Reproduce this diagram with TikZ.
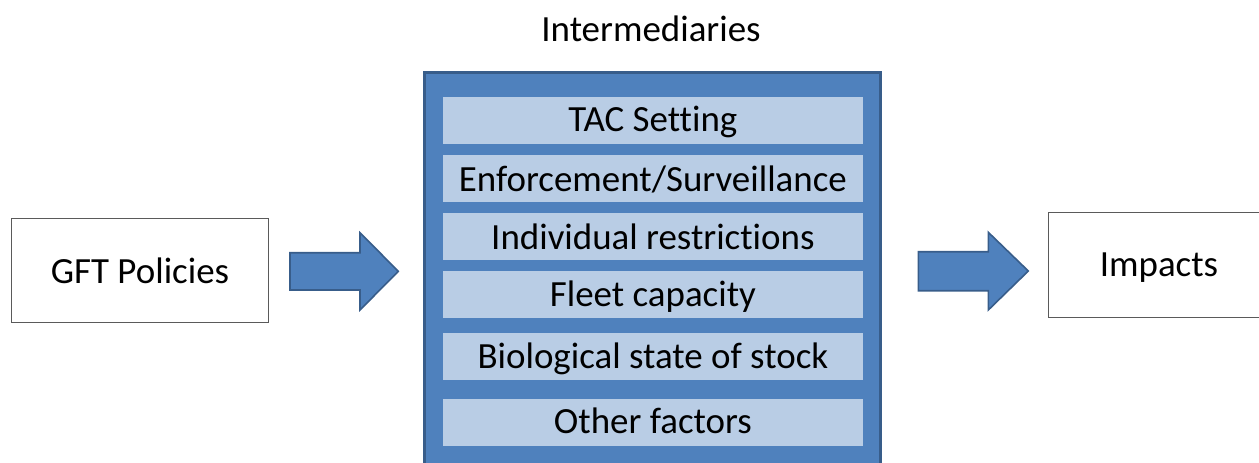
\documentclass[tikz,border=0pt]{standalone}
\usepackage{fontspec}
\setmainfont{Carlito}[Ligatures=NoCommon]
\definecolor{officeblue}{RGB}{79,129,189}
\definecolor{officeedge}{RGB}{56,93,138}
\definecolor{paleblue}{RGB}{185,205,229}
\begin{document}
\begin{tikzpicture}[x=0.75pt,y=0.75pt,yscale=-1,xscale=1,
  font=\fontsize{27.7}{32}\selectfont,
  plainbox/.style={draw={rgb, 255:red, 90; green, 90; blue, 90}, fill=white, line width=1pt},
  blockarrow/.style={draw=officeedge, fill=officeblue, line width=1.2pt, line join=miter},
  factorbox/.style={draw=none, fill=paleblue},
  label/.style={anchor=base, inner sep=0.75pt}]
\useasboundingbox (0,0) rectangle (1259,462);

%Shape: Rectangle [GFT]
\draw [plainbox] (11.7,218.3) rectangle (268.3,322.7);
%Shape: Rectangle [Impacts]
\draw [plainbox] (1048.3,212.7) rectangle (1272,317.3);
%Shape: Rectangle [Intermediaries frame]
\draw [draw=officeedge, fill=officeblue, line width=2.25pt] (424.5,72.7) rectangle (880.5,490);

%Shape: Rectangles [factors]
\fill [factorbox] (442.7,96.7) rectangle (863,143.7);
\fill [factorbox] (442.7,155) rectangle (863,201.7);
\fill [factorbox] (442.7,213.3) rectangle (863,259.7);
\fill [factorbox] (442.7,271) rectangle (863,317.5);
\fill [factorbox] (442.7,333) rectangle (863,380);
\fill [factorbox] (442.7,399.2) rectangle (863,445.7);

%Shape: Right Arrow [in]
\draw [blockarrow] (290,252.7) -- (360,252.7) -- (360,232.7) -- (398.3,271.3) -- (360,310) -- (360,290) -- (290,290) -- cycle ;
%Shape: Right Arrow [out]
\draw [blockarrow] (918.3,251.7) -- (988.3,251.7) -- (988.3,232.3) -- (1028.3,271) -- (988.3,310) -- (988.3,290.7) -- (918.3,290.7) -- cycle ;

% Text Node
\node (title) [label] at (651,41.7) {Intermediaries};
% Text Node
\node (gft) [label] at (140,283.3) {GFT Policies};
% Text Node
\node (impacts) [label] at (1159,276.7) {Impacts};
% Text Node
\node (tac) [label] at (652.9,131.7) {TAC Setting};
% Text Node
\node (enforce) [label] at (652.9,191) {Enforcement/Surveillance};
% Text Node
\node (restrict) [label] at (652.9,249) {Individual restrictions};
% Text Node
\node (fleet) [label] at (652.9,306.7) {Fleet capacity};
% Text Node
\node (stock) [label] at (652.9,368.3) {Biological state of stock};
% Text Node
\node (other) [label] at (652.9,433.3) {Other factors};

\end{tikzpicture}
\end{document}
